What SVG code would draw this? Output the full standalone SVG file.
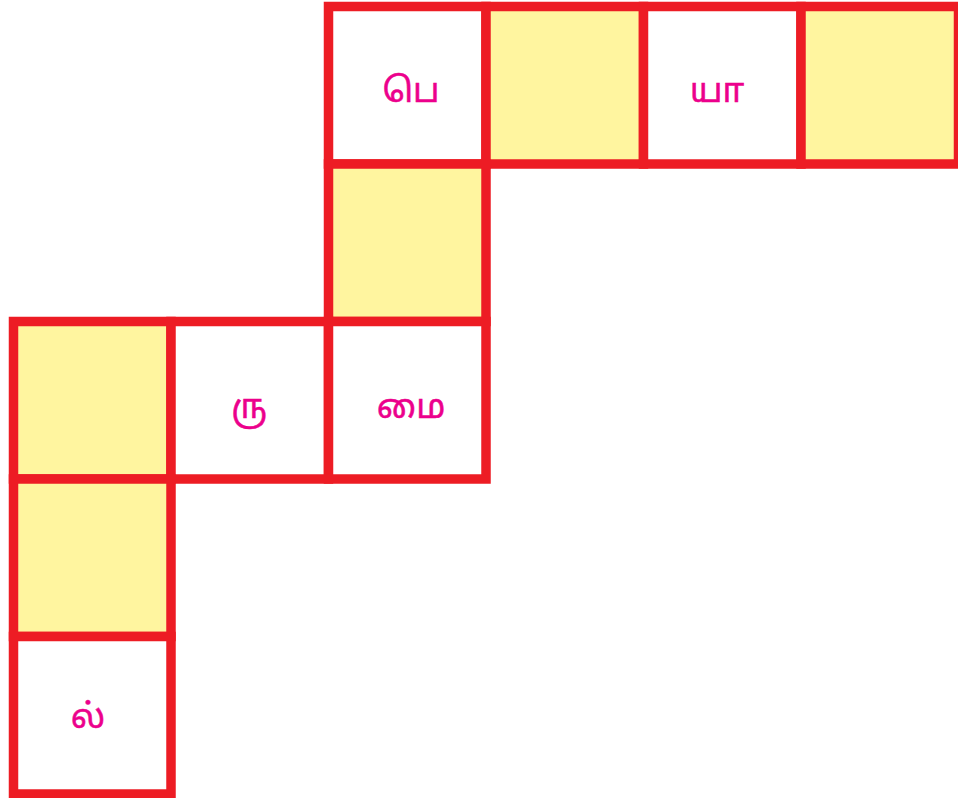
<svg xmlns="http://www.w3.org/2000/svg" width="958" height="798" viewBox="0 0 958 798">
<style>
.c{stroke:#ED1C24;stroke-width:9.5;}
.w{fill:#FFFFFF;}
.y{fill:#FFF59F;}
.t{font-family:"Noto Sans Tamil","Noto Sans","Lohit Tamil",sans-serif;font-size:34px;fill:#EC008C;stroke:#EC008C;stroke-width:0.5;text-anchor:middle;}
</style>
<rect width="958" height="798" fill="#FFFFFF"/>
<g id="cell-pe"><rect class="c w" x="328.5" y="6.5" width="157.5" height="157.5"/><text class="t" x="411" y="102">பெ</text></g>
<g id="cell-r0c3"><rect class="c y" x="486" y="6.5" width="157.5" height="157.5"/></g>
<g id="cell-yaa"><rect class="c w" x="643.5" y="6.5" width="157.5" height="157.5"/><text class="t" x="717" y="102">யா</text></g>
<g id="cell-r0c5"><rect class="c y" x="801" y="6.5" width="157.5" height="157.5"/></g>
<g id="cell-r1c2"><rect class="c y" x="328.5" y="164" width="157.5" height="157.5"/></g>
<g id="cell-r2c0"><rect class="c y" x="13.5" y="321.5" width="157.5" height="157.5"/></g>
<g id="cell-ru"><rect class="c w" x="171" y="321.5" width="157.5" height="157.5"/><text class="t" x="249" y="418">ரு</text></g>
<g id="cell-mai"><rect class="c w" x="328.5" y="321.5" width="157.5" height="157.5"/><text class="t" x="411" y="418">மை</text></g>
<g id="cell-r3c0"><rect class="c y" x="13.5" y="479" width="157.5" height="157.5"/></g>
<g id="cell-l"><rect class="c w" x="13.5" y="636.5" width="157.5" height="157.5"/><text class="t" x="88" y="728">ல்</text></g>
<g id="connectors"></g>
</svg>
